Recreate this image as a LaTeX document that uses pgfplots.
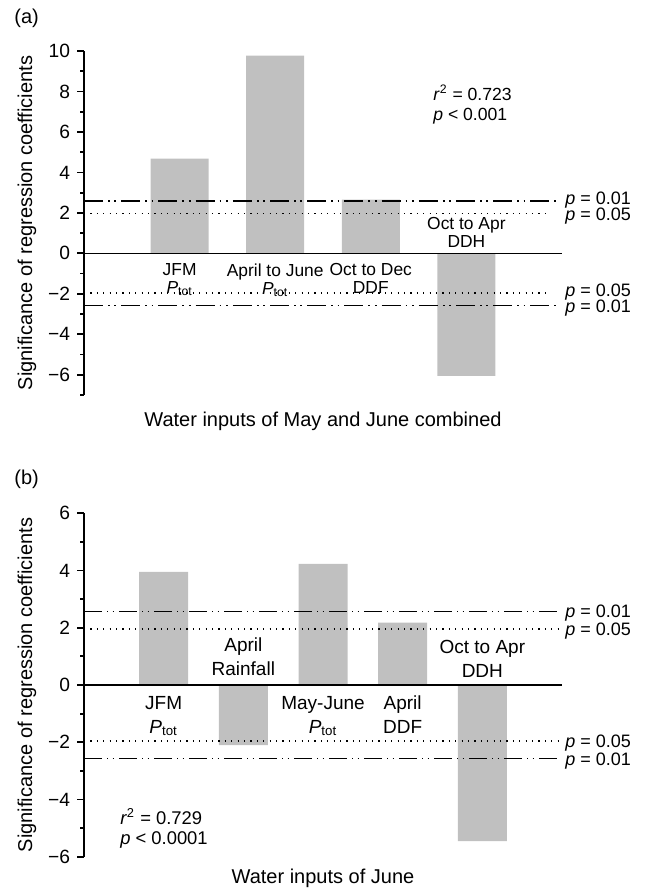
\documentclass[border=0pt]{standalone}
\usepackage{fontspec}
\setmainfont{Liberation Sans}
\usepackage{pgfplots}
\pgfplotsset{compat=1.18}
\definecolor{bargray}{RGB}{192,192,192}
\tikzset{
  ddotA/.style={black, line width=0.9pt, dash pattern=on 9.5pt off 2.5pt on 0.9pt off 2.3pt on 0.9pt off 2.5pt},
  ddotB/.style={black, line width=0.6pt, dash pattern=on 9pt off 2.6pt on 0.6pt off 2.1pt on 0.6pt off 2.6pt},
  dotl/.style={black, line width=0.6pt, dash pattern=on 0.6pt off 2.6pt},
  catA/.style={font=\fontsize{8.7}{9}\selectfont, align=center, inner sep=0pt},
  catB/.style={font=\fontsize{9.5}{12}\selectfont, align=center, inner sep=0pt},
  plab/.style={font=\fontsize{9}{10}\selectfont, anchor=base west, inner sep=0pt},
}
\pgfplotsset{
  myaxis/.style={
    scale only axis, width=239pt, height=172pt,
    axis y line=left, axis x line=none,
    axis line style={-, line width=0.9pt},
    tick style={line width=0.9pt, black},
    tick align=outside,
    major tick length=3.5pt, minor tick length=2pt,
    yticklabel style={font=\fontsize{9.6}{10}\selectfont},
    clip=false,
  }
}
\begin{document}
\begin{tikzpicture}
\path[use as bounding box] (0,0) rectangle (322.5pt,444pt);
% ---------------- panel (a)
\node[anchor=base west, inner sep=0pt, font=\fontsize{10}{12}\selectfont] at (7pt,432pt) {(a)};
\node[rotate=90, font=\fontsize{10}{12}\selectfont] at (13.5pt,332.5pt) {Significance of regression coefficients};
\begin{axis}[myaxis, at={(42pt,246.5pt)}, anchor=south west,
  xmin=0, xmax=5, ymin=-7, ymax=10,
  ytick={-6,-4,-2,0,2,4,6,8,10},
  yticklabels={−6,−4,−2,0,2,4,6,8,10},
  minor ytick={-7,-5,-3,-1,1,3,5,7,9}]
\addplot[ybar, bar width=29pt, fill=bargray, draw=none] coordinates {(1,4.68) (2,9.77) (3,2.65) (4,-6.05)};
\addplot[ddotA] coordinates {(0,2.58) (4.95,2.58)};
\addplot[dotl] coordinates {(0,1.96) (4.88,1.96)};
\addplot[dotl] coordinates {(0,-1.96) (4.88,-1.96)};
\addplot[ddotA] coordinates {(0,-2.58) (4.95,-2.58)};
\addplot[black, line width=0.8pt] coordinates {(0,0) (5,0)};
\node[plab] at (axis cs:5,2.58) [xshift=1.5pt, yshift=-1.8pt] {\textit{p} = 0.01};
\node[plab] at (axis cs:5,1.96) [xshift=1.5pt, yshift=-3.6pt] {\textit{p} = 0.05};
\node[plab] at (axis cs:5,-1.96) [xshift=1.5pt, yshift=-1.8pt] {\textit{p} = 0.05};
\node[plab] at (axis cs:5,-2.58) [xshift=1.5pt, yshift=-3.6pt] {\textit{p} = 0.01};
\node[catA, anchor=north] at (axis cs:1,0) [yshift=-5pt] {JFM\\\textit{P}\textsubscript{tot}};
\node[catA, anchor=north] at (axis cs:2,0) [yshift=-5pt] {April to June\\\textit{P}\textsubscript{tot}};
\node[catA, anchor=north] at (axis cs:3,0) [yshift=-5pt] {Oct to Dec\\DDF};
\node[catA, anchor=south] at (axis cs:4,0) [yshift=2.8pt] {Oct to Apr\\DDH};
\node[anchor=base west, align=left, inner sep=0pt, font=\fontsize{8.8}{9.7}\selectfont] at (axis cs:3.65,6.58) {\textit{r}\textsuperscript{2} = 0.723\\\textit{p} {\char`\<} 0.001};
\node[anchor=base, inner sep=0pt, font=\fontsize{10}{12}\selectfont] at (axis description cs:0.5,0) [yshift=-16pt] {Water inputs of May and June combined};
\end{axis}
% ---------------- panel (b)
\node[anchor=base west, inner sep=0pt, font=\fontsize{10}{12}\selectfont] at (7pt,201.5pt) {(b)};
\node[rotate=90, font=\fontsize{10}{12}\selectfont] at (13.5pt,101.5pt) {Significance of regression coefficients};
\begin{axis}[myaxis, at={(42pt,15.65pt)}, anchor=south west, height=171.7pt,
  xmin=0, xmax=6, ymin=-6, ymax=6,
  ytick={-6,-4,-2,0,2,4,6},
  yticklabels={−6,−4,−2,0,2,4,6},
  minor ytick={-5,-3,-1,1,3,5}]
\addplot[ybar, bar width=24.5pt, fill=bargray, draw=none] coordinates {(1,3.95) (2,-2.1) (3,4.23) (4,2.18) (5,-5.46)};
\addplot[ddotB] coordinates {(0,2.58) (5.97,2.58)};
\addplot[dotl] coordinates {(0,1.96) (5.97,1.96)};
\addplot[dotl] coordinates {(0,-1.96) (5.97,-1.96)};
\addplot[ddotB] coordinates {(0,-2.58) (5.97,-2.58)};
\addplot[black, line width=0.6pt] coordinates {(0,0) (6,0)};
\node[plab] at (axis cs:6,2.58) [xshift=1.5pt, yshift=-3.2pt] {\textit{p} = 0.01};
\node[plab] at (axis cs:6,1.96) [xshift=1.5pt, yshift=-3.2pt] {\textit{p} = 0.05};
\node[plab] at (axis cs:6,-1.96) [xshift=1.5pt, yshift=-3.2pt] {\textit{p} = 0.05};
\node[plab] at (axis cs:6,-2.58) [xshift=1.5pt, yshift=-3.2pt] {\textit{p} = 0.01};
\node[catB, anchor=north] at (axis cs:1,0) [yshift=-5.3pt] {JFM\\\textit{P}\textsubscript{tot}};
\node[catB, anchor=south] at (axis cs:2,0) [yshift=4.3pt] {April\\Rainfall};
\node[catB, anchor=north] at (axis cs:3,0) [yshift=-5.3pt] {May-June\\\textit{P}\textsubscript{tot}};
\node[catB, anchor=north] at (axis cs:4,0) [yshift=-5.3pt] {April\\DDF};
\node[catB, anchor=south] at (axis cs:5,0) [yshift=3.7pt] {Oct to Apr\\DDH};
\node[anchor=base west, align=left, inner sep=0pt, font=\fontsize{9.2}{10}\selectfont] at (axis cs:0.45,-5.58) {\textit{r}\textsuperscript{2} = 0.729\\\textit{p} {\char`\<} 0.0001};
\node[anchor=base, inner sep=0pt, font=\fontsize{10}{12}\selectfont] at (axis description cs:0.5,0) [yshift=-13.6pt] {Water inputs of June};
\end{axis}
\end{tikzpicture}
\end{document}
